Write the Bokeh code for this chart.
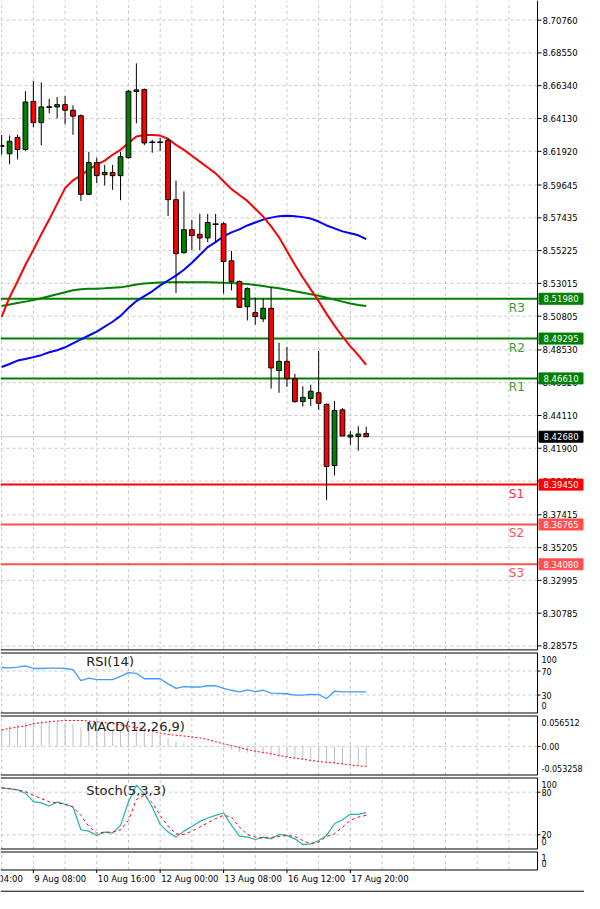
from bokeh.plotting import figure
from bokeh.models import Range1d, Label, ColumnDataSource
from bokeh.core.properties import value
from bokeh.layouts import column
from bokeh.embed import file_html
from bokeh.resources import INLINE

# ---------------- data (4H candles) ----------------
candle_index = list(range(47))
opens = [8.62250, 8.61753, 8.62859, 8.62038, 8.65283, 8.63852, 8.64899, 8.64912, 8.65064, 8.64687,
         8.64316, 8.59018, 8.61157, 8.60343, 8.60495, 8.60276, 8.61488, 8.65945, 8.66078, 8.62528,
         8.62528, 8.62660, 8.58660, 8.55084, 8.56634, 8.56323, 8.56078, 8.57005, 8.57031, 8.54535,
         8.53144, 8.51442, 8.51045, 8.50627, 8.51336, 8.47137, 8.47760, 8.46588, 8.45045, 8.45263,
         8.45641, 8.44866, 8.40740, 8.44489, 8.42661, 8.42700, 8.42899]
highs = [8.63011, 8.62991, 8.63031, 8.65972, 8.66674, 8.66568, 8.65462, 8.65574, 8.65640, 8.65018,
         8.64402, 8.61886, 8.61488, 8.61005, 8.61005, 8.61886, 8.66025, 8.67846, 8.66157, 8.62700,
         8.62813, 8.62813, 8.59945, 8.59217, 8.57296, 8.57713, 8.57694, 8.57694, 8.57137, 8.55197,
         8.53210, 8.52747, 8.52064, 8.51998, 8.52767, 8.49018, 8.48727, 8.46919, 8.46078, 8.46190,
         8.48462, 8.44899, 8.45085, 8.44601, 8.43058, 8.43389, 8.43343]
lows = [8.61687, 8.61045, 8.61376, 8.61952, 8.63541, 8.62329, 8.64468, 8.64137, 8.63740, 8.63031,
        8.58574, 8.58972, 8.59766, 8.59614, 8.59323, 8.58621, 8.61422, 8.63806, 8.62329, 8.61819,
        8.61952, 8.57561, 8.52369, 8.55018, 8.55243, 8.55263, 8.55793, 8.55793, 8.52329, 8.52548,
        8.51356, 8.50515, 8.50230, 8.50409, 8.45926, 8.45641, 8.46038, 8.44979, 8.44714, 8.44753,
        8.44489, 8.38422, 8.40078, 8.42727, 8.42131, 8.41734, 8.42661]
closes = [8.62316, 8.62594, 8.62038, 8.65243, 8.63852, 8.64912, 8.64899, 8.65064, 8.64687, 8.64289,
          8.59018, 8.61157, 8.60276, 8.60495, 8.60276, 8.61554, 8.65972, 8.66058, 8.62482, 8.62528,
          8.62528, 8.58660, 8.55018, 8.56634, 8.56237, 8.56078, 8.57117, 8.57005, 8.54488, 8.53144,
          8.51402, 8.52661, 8.50780, 8.51336, 8.47316, 8.47760, 8.46588, 8.45045, 8.45330, 8.45747,
          8.44932, 8.40674, 8.44448, 8.42727, 8.42793, 8.42859, 8.42680]

ma_red = [8.50760, 8.52084, 8.53144, 8.54270, 8.55263, 8.56323, 8.57316, 8.58376, 8.59435, 8.59965,
          8.60296, 8.60694, 8.61025, 8.61290, 8.61687, 8.62018, 8.62482, 8.62912, 8.63011, 8.63011,
          8.62978, 8.62746, 8.62349, 8.62018, 8.61621, 8.61223, 8.60826, 8.60429, 8.59899, 8.59369,
          8.58972, 8.58574, 8.58045, 8.57515, 8.56853, 8.56124, 8.55197, 8.54270, 8.53409, 8.52614,
          8.51820, 8.50959, 8.50164, 8.49435, 8.48773, 8.48177, 8.47515]
ma_blue = [8.47382, 8.47581, 8.47813, 8.47912, 8.48045, 8.48177, 8.48376, 8.48508, 8.48707, 8.48972,
           8.49237, 8.49502, 8.49767, 8.50098, 8.50429, 8.50826, 8.51356, 8.51820, 8.52151, 8.52482,
           8.52879, 8.53210, 8.53541, 8.53939, 8.54402, 8.54932, 8.55462, 8.55793, 8.56190, 8.56455,
           8.56654, 8.56919, 8.57117, 8.57316, 8.57449, 8.57548, 8.57581, 8.57548, 8.57482, 8.57382,
           8.57184, 8.56919, 8.56720, 8.56521, 8.56389, 8.56257, 8.55992]
ma_green = [8.51488, 8.51588, 8.51687, 8.51786, 8.51886, 8.52018, 8.52151, 8.52283, 8.52416, 8.52548,
            8.52614, 8.52647, 8.52661, 8.52680, 8.52714, 8.52747, 8.52846, 8.52945, 8.53012, 8.53045,
            8.53078, 8.53098, 8.53098, 8.53098, 8.53098, 8.53098, 8.53091, 8.53078, 8.53058, 8.53045,
            8.53012, 8.52978, 8.52912, 8.52846, 8.52747, 8.52680, 8.52581, 8.52482, 8.52382, 8.52283,
            8.52184, 8.52051, 8.51919, 8.51786, 8.51654, 8.51555, 8.51488]

rsi = [75.8, 75.3, 76.3, 78.6, 74.2, 74.2, 74.8, 74.8, 74.2, 72.1,
       53.9, 58.2, 55.5, 55.5, 55.5, 61.0, 67.4, 66.2, 57.1, 57.1,
       57.1, 48.6, 41.1, 43.8, 43.3, 43.3, 45.4, 45.4, 41.1, 37.9,
       35.3, 38.5, 35.8, 37.9, 33.1, 32.6, 32.1, 29.9, 29.9, 31.0,
       30.5, 24.2, 36.4, 35.3, 35.3, 35.3, 35.3]
macd_hist = [0.0335, 0.0382, 0.0410, 0.0440, 0.0440, 0.0459, 0.0459, 0.0453, 0.0440, 0.0423,
             0.0352, 0.0352, 0.0340, 0.0322, 0.0294, 0.0294, 0.0352, 0.0352, 0.0294, 0.0251,
             0.0216, 0.0145, 0.0087, 0.0057, 0.0028, 0.0010, 0.0010, 0.0005, -0.0012, -0.0060,
             -0.0103, -0.0120, -0.0131, -0.0137, -0.0179, -0.0197, -0.0209, -0.0238, -0.0250, -0.0267,
             -0.0267, -0.0326, -0.0315, -0.0338, -0.0356, -0.0356, -0.0374]
macd_signal = [0.0305, 0.0335, 0.0358, 0.0382, 0.0423, 0.0440, 0.0459, 0.0470, 0.0482, 0.0482,
               0.0482, 0.0470, 0.0459, 0.0440, 0.0423, 0.0400, 0.0370, 0.0352, 0.0322, 0.0276,
               0.0246, 0.0222, 0.0205, 0.0193, 0.0175, 0.0158, 0.0128, 0.0087, 0.0046, 0.0017,
               -0.0019, -0.0060, -0.0090, -0.0114, -0.0137, -0.0167, -0.0197, -0.0220, -0.0238, -0.0262,
               -0.0280, -0.0297, -0.0309, -0.0326, -0.0344, -0.0362, -0.0374]
stoch_main = [86.1, 84.7, 83.3, 78.6, 66.8, 64.9, 60.6, 66.3, 63.0, 59.2,
              27.1, 25.2, 19.1, 23.8, 22.4, 33.2, 66.3, 89.9, 78.1, 59.2,
              34.7, 23.8, 16.7, 25.2, 31.8, 38.9, 43.6, 47.4, 50.7, 33.2,
              18.1, 16.7, 13.4, 16.7, 14.3, 20.5, 19.1, 14.3, 6.3, 7.3,
              12.0, 19.1, 35.6, 41.3, 48.8, 48.8, 51.2]
stoch_signal = [86.1, 85.2, 83.3, 80.9, 75.7, 71.0, 66.3, 64.9, 63.0, 59.2,
                47.4, 31.8, 22.4, 23.8, 23.8, 27.1, 40.3, 69.6, 75.7, 64.9,
                47.4, 31.8, 21.4, 20.5, 25.2, 30.9, 37.0, 42.7, 47.4, 45.0,
                30.9, 20.5, 16.7, 15.3, 16.2, 17.6, 19.1, 17.6, 12.0, 7.3,
                9.6, 17.6, 21.4, 30.9, 40.3, 45.0, 47.4]

price_ticks = [8.70760, 8.68550, 8.66340, 8.64130, 8.61920, 8.59645, 8.57435, 8.55225, 8.53015, 8.50805,
               8.48530, 8.46320, 8.44110, 8.41900, 8.39690, 8.37415, 8.35205, 8.32995, 8.30785, 8.28575]
time_ticks = [-4, 4, 12, 20, 28, 36, 44]
time_labels = ["6 Aug 04:00", "9 Aug 08:00", "10 Aug 16:00", "12 Aug 00:00",
               "13 Aug 08:00", "16 Aug 12:00", "17 Aug 20:00"]
levels = [8.51980, 8.49295, 8.46610, 8.39450, 8.36765, 8.34080]
level_names = ["R3", "R2", "R1", "S1", "S2", "S3"]
last_price = 8.42680

rsi_range = (0, 100)
rsi_levels = [70, 30]
rsi_label_pos = [89, 70, 30, 12]
rsi_label_txt = ["100", "70", "30", "0"]
macd_range = (-0.053258, 0.056512)
macd_levels = [0.0]
macd_label_pos = [0.0440, 0.0, -0.0403]
macd_label_txt = ["0.056512", "0.00", "-0.053258"]
stoch_range = (0, 100)
stoch_levels = [80, 20]
stoch_label_pos = [91, 80, 20, 10.5]
stoch_label_txt = ["100", "80", "20", "0"]
empty_range = (0, 1)
empty_label_pos = [0.69, 0.36]
empty_label_txt = ["1", "0"]

# ---------------- layout constants ----------------
W = 584
PX_PER_IDX = 7.925
X0 = -0.147
AXIS_X = X0 + 537 / PX_PER_IDX
X1 = X0 + W / PX_PER_IDX
GRID_X = list(range(0, 68, 4))
GRID_COLOR = "#c8c8c8"
FONT = "DejaVu Sans"
TITLE_X = 10.66


def panel_fig(height, y_lo, y_hi):
    p = figure(width=W, height=height, x_range=Range1d(X0, X1), y_range=Range1d(y_lo, y_hi),
               output_backend="svg", toolbar_location=None,
               x_axis_location=None, y_axis_location=None,
               min_border_left=0, min_border_right=0, min_border_top=0, min_border_bottom=0)
    p.outline_line_color = None
    p.xgrid.visible = False
    p.ygrid.visible = False
    p.background_fill_color = "white"
    p.border_fill_color = "white"
    return p


def grid(p, pmin, pmax, levels_h):
    p.segment(x0=GRID_X, y0=pmin, x1=GRID_X, y1=pmax,
              line_color=GRID_COLOR, line_dash="3 3", line_width=1)
    if levels_h:
        p.segment(x0=X0, y0=levels_h, x1=AXIS_X, y1=levels_h,
                  line_color=GRID_COLOR, line_dash="3 3", line_width=1)


def frame_and_axis(p, pmin, pmax, tick_levels, label_pos, label_txt, size, tick_len=3, dx=4,
                   top=True):
    ys = [pmin, pmax] if top else [pmin]
    p.segment(x0=X0, y0=ys, x1=AXIS_X, y1=ys, line_color="black", line_width=1)
    p.segment(x0=AXIS_X, y0=pmin, x1=AXIS_X, y1=pmax, line_color="black", line_width=1)
    if tick_levels:
        p.ray(x=AXIS_X, y=tick_levels, length=tick_len, length_units="screen", angle=0,
              line_color="black", line_width=1)
    p.text(x=AXIS_X, y=label_pos, text=label_txt, x_offset=dx,
           text_font=value(FONT), text_font_size=size, text_color="black",
           text_align="left", text_baseline="middle")


def title(p, y, text):
    p.add_layout(Label(x=TITLE_X, y=y, text=text, text_font=FONT, text_font_size="13px",
                       text_color="#222222", text_baseline="middle", text_align="left"))


# ---------------- main price panel ----------------
MAIN_TOP = 8.72084
MAIN_PANEL_MIN = 8.28310
pm = panel_fig(651, 8.28201, MAIN_TOP)
grid(pm, MAIN_PANEL_MIN, MAIN_TOP, price_ticks)

level_colors = ["#008000", "#008000", "#008000", "#ff0000", "#ff5050", "#ff5050"]
text_colors = ["#3c9a3c", "#3c9a3c", "#3c9a3c", "#ff3333", "#ff5050", "#ff5050"]
pm.segment(x0=X0, y0=[last_price], x1=AXIS_X, y1=[last_price], line_color="#c8c8c8", line_width=1)
pm.segment(x0=X0, y0=levels, x1=AXIS_X, y1=levels, line_color=level_colors, line_width=2)

pm.line(candle_index, ma_green, line_color="#008000", line_width=2)
pm.line(candle_index, ma_blue, line_color="#0000ff", line_width=2)
pm.line(candle_index, ma_red, line_color="#ff0000", line_width=2)

src = ColumnDataSource(dict(
    x=candle_index, high=highs, low=lows,
    top=[max(o, c) for o, c in zip(opens, closes)],
    bottom=[min(o, c) for o, c in zip(opens, closes)],
    color=["#008000" if c >= o else "#ff0000" for o, c in zip(opens, closes)],
))
pm.segment(x0="x", y0="high", x1="x", y1="low", source=src, line_color="black", line_width=1)
pm.vbar(x="x", width=0.6, top="top", bottom="bottom", fill_color="color",
        line_color="black", line_width=1, source=src)
doji_x = [i for i in candle_index if opens[i] == closes[i]]
doji_y = [closes[i] for i in doji_x]
pm.scatter(x=doji_x, y=doji_y, marker="dash", size=6, line_color="black", line_width=1)

for lv, name, tcol in zip(levels, level_names, text_colors):
    pm.add_layout(Label(x=64.0, y=lv, text=name, text_font=FONT, text_font_size="12px",
                        text_color=tcol, text_baseline="top", text_align="left", y_offset=-2))

frame_and_axis(pm, MAIN_PANEL_MIN, MAIN_TOP, price_ticks, price_ticks,
               [f"{t:.5f}" for t in price_ticks], "8.5px", tick_len=4, dx=5, top=False)

box_values = levels + [last_price]
box_cols = level_colors + ["#000000"]
pm.rect(x=AXIS_X + 23.5 / PX_PER_IDX, y=box_values, width=44, height=11,
        width_units="screen", height_units="screen", fill_color=box_cols, line_color=box_cols)
pm.text(x=AXIS_X, y=box_values, text=[f"{v:.5f}" for v in box_values], x_offset=6,
        text_font=value(FONT), text_font_size="8.5px", text_color="white",
        text_align="left", text_baseline="middle")

# ---------------- RSI ----------------
pr = panel_fig(63, -2.5, 102.5)
grid(pr, *rsi_range, rsi_levels)
pr.line(candle_index, rsi, line_color="#3f9cff", line_width=1.3)
frame_and_axis(pr, *rsi_range, rsi_levels, rsi_label_pos, rsi_label_txt, "8px")
title(pr, 86, "RSI(14)")

# ---------------- MACD ----------------
pmc = panel_fig(62, -0.056049, 0.059303)
grid(pmc, *macd_range, macd_levels)
pmc.segment(x0=candle_index, y0=0, x1=candle_index, y1=macd_hist, line_color="#c0c0c0", line_width=1)
pmc.line(candle_index, macd_signal, line_color="#ff0000", line_dash="2 2", line_width=1)
frame_and_axis(pmc, *macd_range, macd_levels, macd_label_pos, macd_label_txt, "8px")
title(pmc, 0.0366, "MACD(12,26,9)")

# ---------------- Stochastic ----------------
pst = panel_fig(74, -2.11, 102.11)
grid(pst, *stoch_range, stoch_levels)
pst.line(candle_index, stoch_main, line_color="#20b2aa", line_width=1.2)
pst.line(candle_index, stoch_signal, line_color="#ff0000", line_dash="3 3", line_width=1)
frame_and_axis(pst, *stoch_range, stoch_levels, stoch_label_pos, stoch_label_txt, "8px")
title(pst, 83, "Stoch(5,3,3)")

# ---------------- empty window + time axis ----------------
pe = panel_fig(42, -1.25, 1.0833)
grid(pe, *empty_range, [])
frame_and_axis(pe, *empty_range, [], empty_label_pos, empty_label_txt, "8px")
pe.segment(x0=time_ticks, y0=0, x1=time_ticks, y1=-0.17, line_color="black", line_width=1)
pe.text(x=time_ticks, y=-0.49, text=time_labels, x_offset=1,
        text_font=value(FONT), text_font_size="8.5px", text_color="black",
        text_align="left", text_baseline="middle")
pe.segment(x0=[X0], y0=-1.18, x1=[X1], y1=-1.18, line_color="black", line_width=1)

layout = column(pm, pr, pmc, pst, pe, spacing=0)
open("out.html", "w").write(file_html(layout, INLINE))
